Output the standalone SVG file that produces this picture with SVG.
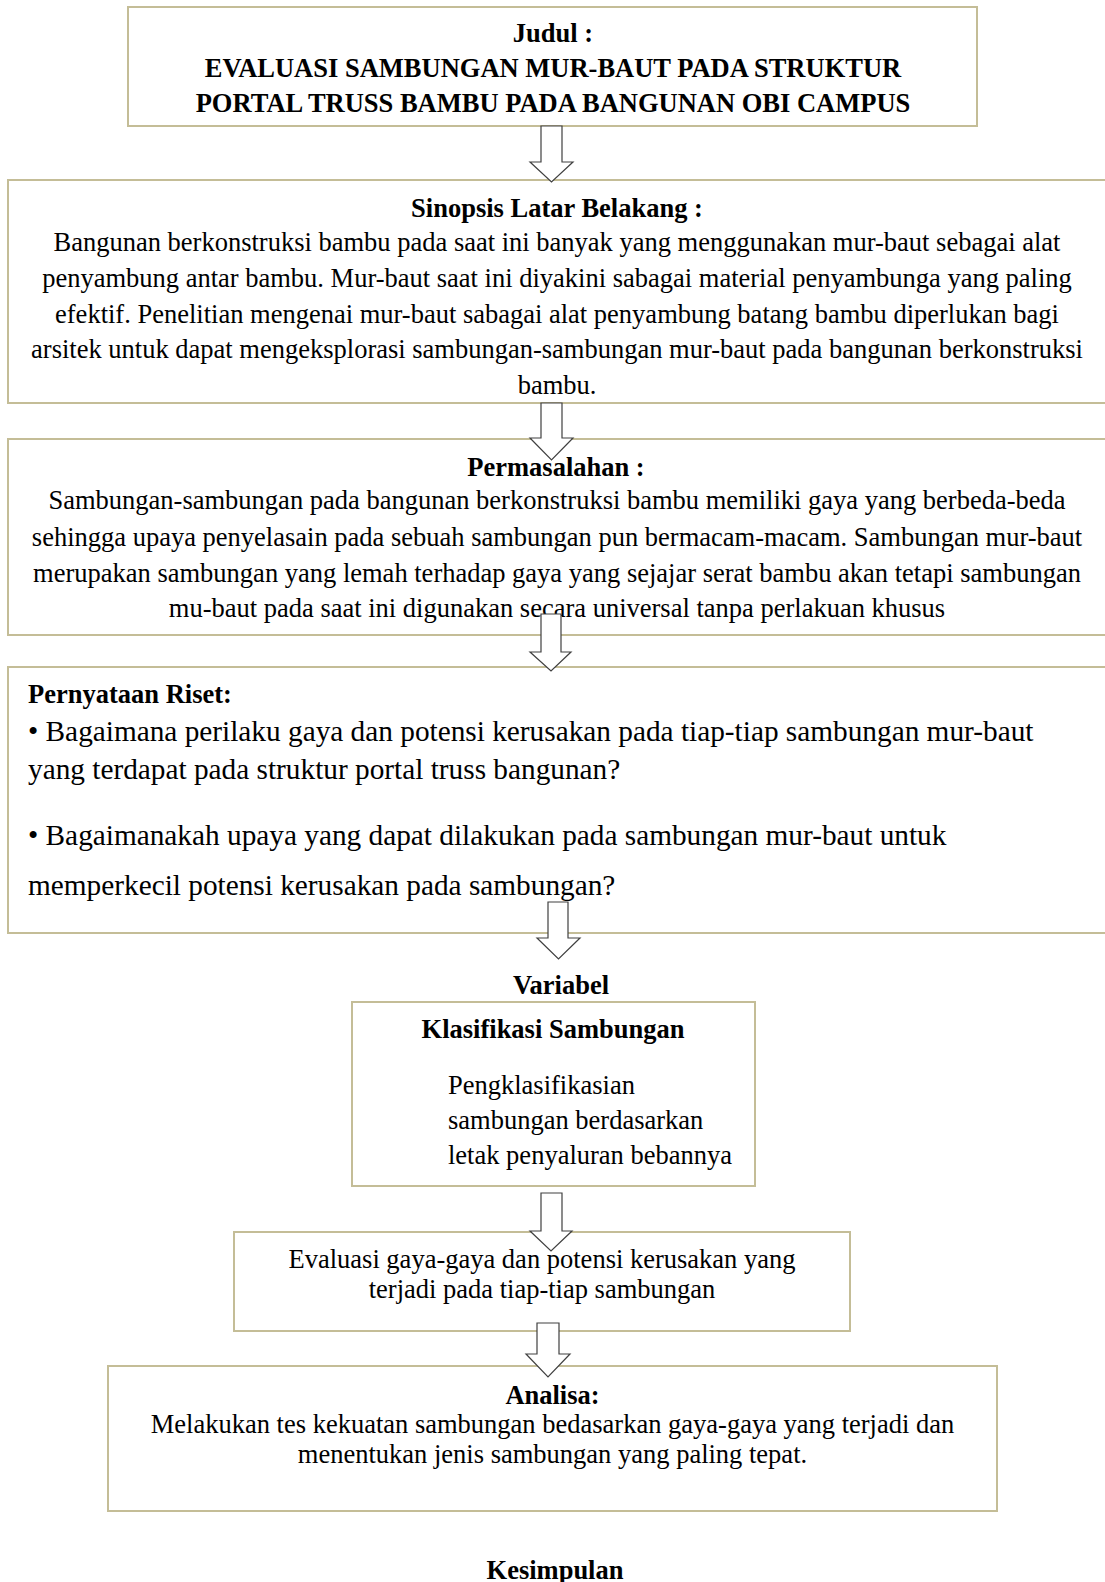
<svg xmlns="http://www.w3.org/2000/svg" width="1105" height="1582" viewBox="0 0 1105 1582">
<style>
.box{fill:#ffffff;stroke:#c4bd97;stroke-width:2}
.arr{fill:#ffffff;stroke:#404040;stroke-width:1.2;stroke-linejoin:miter}
text{font-family:"Liberation Serif","Times New Roman",serif;fill:#000000;font-size:26.5px}
.b{font-weight:bold}
.c{text-anchor:middle}
.big{font-size:29.3px}
</style>
<rect width="1105" height="1582" fill="#ffffff"/>
<g id="judul">
<rect class="box" x="128" y="7" width="849" height="119"/>
<text class="b c" x="553" y="42">Judul :</text>
<text class="b c" x="553" y="77">EVALUASI SAMBUNGAN MUR-BAUT PADA STRUKTUR</text>
<text class="b c" x="553" y="111.5">PORTAL TRUSS BAMBU PADA BANGUNAN OBI CAMPUS</text>
</g>
<g id="sinopsis">
<rect class="box" x="8" y="180" width="1110" height="223"/>
<text class="b c" x="557" y="216.5">Sinopsis Latar Belakang :</text>
<text class="c" x="557" y="251">Bangunan berkonstruksi bambu pada saat ini banyak yang menggunakan mur-baut sebagai alat</text>
<text class="c" x="557" y="287">penyambung antar bambu. Mur-baut saat ini diyakini sabagai material penyambunga yang paling</text>
<text class="c" x="557" y="323">efektif. Penelitian mengenai mur-baut sabagai alat penyambung batang bambu diperlukan bagi</text>
<text class="c" x="557" y="358">arsitek untuk dapat mengeksplorasi sambungan-sambungan mur-baut pada bangunan berkonstruksi</text>
<text class="c" x="557" y="394">bambu.</text>
</g>
<g id="permasalahan">
<rect class="box" x="8" y="439" width="1110" height="196"/>
<text class="b c" x="556" y="476">Permasalahan :</text>
<text class="c" x="557" y="509">Sambungan-sambungan pada bangunan berkonstruksi bambu memiliki gaya yang berbeda-beda</text>
<text class="c" x="557" y="545.5">sehingga upaya penyelasain pada sebuah sambungan pun bermacam-macam. Sambungan mur-baut</text>
<text class="c" x="557" y="581.5">merupakan sambungan yang lemah terhadap gaya yang sejajar serat bambu akan tetapi sambungan</text>
<text class="c" x="557" y="617">mu-baut pada saat ini digunakan secara universal tanpa perlakuan khusus</text>
</g>
<g id="pernyataan">
<rect class="box" x="8" y="667" width="1110" height="266"/>
<text class="b" x="28" y="703">Pernyataan Riset:</text>
<text class="big" x="28" y="740.5">• Bagaimana perilaku gaya dan potensi kerusakan pada tiap-tiap sambungan mur-baut</text>
<text class="big" x="28" y="778.5">yang terdapat pada struktur portal truss bangunan?</text>
<text class="big" x="28" y="845">• Bagaimanakah upaya yang dapat dilakukan pada sambungan mur-baut untuk</text>
<text class="big" x="28" y="895">memperkecil potensi kerusakan pada sambungan?</text>
</g>
<g id="variabel">
<text class="b c" x="561" y="994">Variabel</text>
</g>
<g id="klasifikasi">
<rect class="box" x="352" y="1002" width="403" height="184"/>
<text class="b c" x="553" y="1038">Klasifikasi Sambungan</text>
<text x="448" y="1094">Pengklasifikasian</text>
<text x="448" y="1129">sambungan berdasarkan</text>
<text x="448" y="1164">letak penyaluran bebannya</text>
</g>
<g id="evaluasi">
<rect class="box" x="234" y="1232" width="616" height="99"/>
<text class="c" x="542" y="1267.5">Evaluasi gaya-gaya dan potensi kerusakan yang</text>
<text class="c" x="542" y="1298">terjadi pada tiap-tiap sambungan</text>
</g>
<g id="analisa">
<rect class="box" x="108" y="1366" width="889" height="145"/>
<text class="b c" x="552.5" y="1404">Analisa:</text>
<text class="c" x="552.5" y="1432.5">Melakukan tes kekuatan sambungan bedasarkan gaya-gaya yang terjadi dan</text>
<text class="c" x="552.5" y="1463">menentukan jenis sambungan yang paling tepat.</text>
</g>
<g id="kesimpulan">
<text class="b c" x="555" y="1579">Kesimpulan</text>
</g>
<g id="connectors">
<path class="arr" d="M541,126 H562 V162 H573 L551.5,182 L530,162 H541 Z"/>
<path class="arr" d="M541,403 H562 V438 H573 L551.5,460 L530,438 H541 Z"/>
<path class="arr" d="M541,614 H561 V652 H571 L551,671 L530,652 H541 Z"/>
<path class="arr" d="M548,902 H568 V938 H580 L558.5,959 L537,938 H548 Z"/>
<path class="arr" d="M541,1193 H562 V1231 H572 L551,1251 L530,1231 H541 Z"/>
<path class="arr" d="M537,1323 H559 V1354 H570 L548,1377 L526,1354 H537 Z"/>
</g>
</svg>
